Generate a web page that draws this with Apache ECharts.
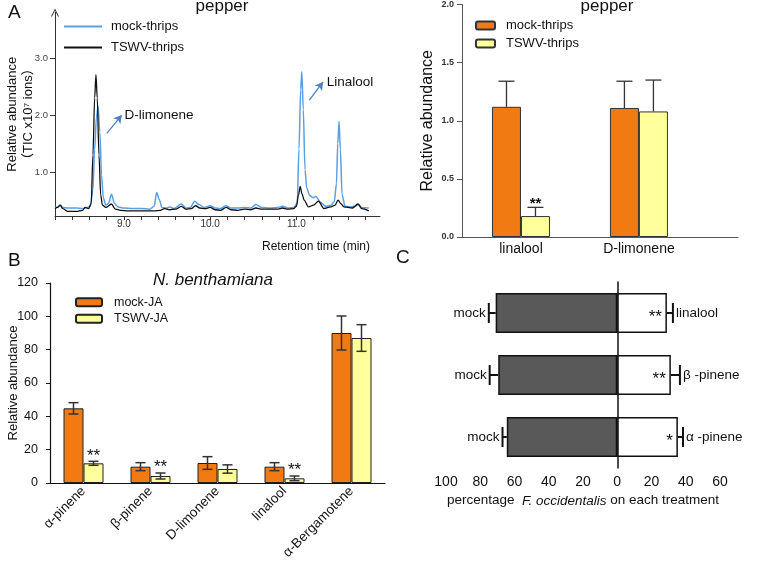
<!DOCTYPE html>
<html><head><meta charset="utf-8">
<script src="https://cdn.jsdelivr.net/npm/echarts@6/dist/echarts.min.js"></script>
<style>html,body{margin:0;padding:0;background:#fff}#c{width:758px;height:562px}</style>
</head><body><div id="c"></div>
<script>
// ---------- Panel A: chromatogram (retention time, relative abundance) ----------
const mockTrace = [[8.20,0.38],[8.23,0.39],[8.26,0.42],[8.29,0.38],[8.35,0.37],[8.45,0.37],[8.52,0.36],[8.57,0.38],[8.61,0.40],[8.64,0.70],[8.66,1.40],[8.68,1.95],[8.70,2.15],[8.72,1.70],[8.74,0.95],[8.76,0.55],[8.79,0.42],[8.82,0.45],[8.855,0.61],[8.89,0.45],[8.93,0.39],[9.00,0.37],[9.10,0.36],[9.20,0.36],[9.30,0.35],[9.35,0.40],[9.38,0.64],[9.41,0.52],[9.44,0.38],[9.50,0.37],[9.53,0.39],[9.58,0.36],[9.665,0.44],[9.72,0.37],[9.77,0.38],[9.82,0.49],[9.87,0.43],[9.93,0.38],[10.00,0.41],[10.06,0.37],[10.12,0.36],[10.18,0.41],[10.24,0.37],[10.32,0.37],[10.40,0.38],[10.47,0.37],[10.53,0.43],[10.60,0.38],[10.70,0.37],[10.78,0.38],[10.84,0.40],[10.90,0.37],[10.97,0.38],[11.01,0.46],[11.03,1.40],[11.05,2.45],[11.063,2.76],[11.08,2.10],[11.10,1.04],[11.12,0.72],[11.155,0.59],[11.19,0.55],[11.225,0.57],[11.28,0.47],[11.34,0.40],[11.40,0.42],[11.44,0.48],[11.465,0.80],[11.48,1.50],[11.495,1.89],[11.51,1.40],[11.53,0.60],[11.565,0.40],[11.63,0.39],[11.68,0.40],[11.715,0.43],[11.76,0.38],[11.84,0.37]];
const tswvTrace = [[8.20,0.36],[8.23,0.38],[8.26,0.42],[8.29,0.36],[8.35,0.31],[8.45,0.31],[8.52,0.33],[8.55,0.38],[8.59,0.36],[8.62,0.45],[8.64,1.30],[8.66,2.30],[8.675,2.71],[8.69,2.30],[8.71,1.30],[8.73,0.60],[8.75,0.42],[8.79,0.38],[8.855,0.44],[8.90,0.35],[8.96,0.33],[9.05,0.32],[9.20,0.32],[9.35,0.32],[9.42,0.33],[9.47,0.36],[9.53,0.34],[9.60,0.35],[9.665,0.40],[9.72,0.35],[9.78,0.36],[9.83,0.41],[9.88,0.37],[9.94,0.36],[10.00,0.38],[10.06,0.34],[10.12,0.33],[10.185,0.38],[10.24,0.34],[10.32,0.33],[10.40,0.35],[10.47,0.34],[10.53,0.37],[10.60,0.35],[10.70,0.35],[10.78,0.35],[10.84,0.37],[10.90,0.35],[10.97,0.36],[11.00,0.40],[11.025,0.60],[11.044,0.75],[11.065,0.62],[11.09,0.51],[11.14,0.39],[11.20,0.42],[11.255,0.49],[11.32,0.36],[11.40,0.39],[11.45,0.42],[11.483,0.51],[11.52,0.44],[11.55,0.39],[11.65,0.37],[11.715,0.44],[11.76,0.36],[11.84,0.32]];
const chromTickVals = [8.2,8.4,8.6,8.8,9.0,9.2,9.4,9.6,9.8,10.0,10.2,10.4,10.6,10.8,11.0,11.2,11.4,11.6,11.8];
const chromLabelVals = [9.0,10.0,11.0];
const chromYLabelVals = [1.0,2.0,3.0];

// ---------- Panel A: pepper bars ----------
const pepperCats = ['linalool','D-limonene'];
const pepperMock = [1.12, 1.11];
const pepperMockErr = [0.22, 0.23];
const pepperTswv = [0.18, 1.08];
const pepperTswvErr = [0.075, 0.27];
const pepperSig = ['**',''];

// ---------- Panel B: N. benthamiana ----------
const nbCats = ['α-pinene','β-pinene','D-limonene','linalool','α-Bergamotene'];
const nbMock = [44.8, 9.8, 12, 9.8, 90];
const nbMockErr = [3.4, 2.4, 3.8, 2.4, 10.2];
const nbTswv = [11.8, 4.2, 8.4, 2.8, 87];
const nbTswvErr = [1.2, 1.8, 2.5, 1.4, 8];
const nbSig = ['**','**','','**',''];

// ---------- Panel C: choice test ----------
const cCats = ['α -pinene','β -pinene','linalool'];
const cMock = [64.5, 69.5, 71];
const cMockErr = [2.5, 5, 4];
const cTreat = [35.4, 31.3, 29];
const cTreatErr = [3, 5.3, 3.5];
const cSig = ['*','**','**'];

const FF = '"Liberation Sans", Arial, "Noto Sans CJK SC", sans-serif';
const ORANGE = '#f27a12', YELLOW = '#ffff9c', BLUE = '#5b9fe0';

const chart = echarts.init(document.getElementById('c'));

function vErr(offset, capHalf, twoSided, sigArr, color, lw, starFont, starLift) {
  return function (params, api) {
    const x = api.value(0), v = api.value(1), e = api.value(2);
    const pt = api.coord([x, v + e]);
    const pb = api.coord([x, twoSided ? v - e : v]);
    const cx = pt[0] + offset;
    const st = {stroke: color, lineWidth: lw};
    const ch = [
      {type:'line', shape:{x1:cx, y1:pb[1], x2:cx, y2:pt[1]}, style:st},
      {type:'line', shape:{x1:cx-capHalf, y1:pt[1], x2:cx+capHalf, y2:pt[1]}, style:st}
    ];
    if (twoSided) ch.push({type:'line', shape:{x1:cx-capHalf, y1:pb[1], x2:cx+capHalf, y2:pb[1]}, style:st});
    const s = sigArr ? sigArr[params.dataIndex] : '';
    if (s) ch.push({type:'text', x:cx, y:pt[1] + starLift, style:{text:s, font:starFont, fill:'#111', textAlign:'center', textVerticalAlign:'bottom'}});
    return {type:'group', children:ch};
  };
}

function hErr(sign, labels, labelSide) {
  return function (params, api) {
    const v = api.value(0), yi = api.value(1), e = api.value(2);
    const p0 = api.coord([v, yi]);
    const p1 = api.coord([v + sign * e, yi]);
    const st = {stroke:'#111', lineWidth:2};
    return {type:'group', children:[
      {type:'line', shape:{x1:p0[0], y1:p0[1], x2:p1[0], y2:p1[1]}, style:st},
      {type:'line', shape:{x1:p1[0], y1:p1[1]-10, x2:p1[0], y2:p1[1]+10}, style:st},
      {type:'text', x:p1[0] + (labelSide === 'left' ? -3 : 3), y:p1[1],
       style:{text:labels[params.dataIndex], font:'13.5px ' + FF, fill:'#111',
              textAlign: labelSide === 'left' ? 'right' : 'left', textVerticalAlign:'middle'}}
    ]};
  };
}

const txt = (x, y, text, font, align) => ({type:'text', x, y, silent:true,
  style:{text, font, fill:'#111', textAlign: align || 'left', textVerticalAlign:'top'}});

const option = {
  animation: false,
  textStyle: {fontFamily: FF},
  graphic: [
    txt(8, 3, 'A', '19px ' + FF),
    txt(222, -2, 'pepper', '17px ' + FF, 'center'),
    txt(607, -2, 'pepper', '17px ' + FF, 'center'),
    txt(262, 241, 'Retention time (min)', '12px ' + FF),
    txt(8, 251, 'B', '19px ' + FF),
    txt(213, 272, 'N. benthamiana', 'italic 17px ' + FF, 'center'),
    txt(396, 248, 'C', '19px ' + FF)
  ],
  legend: [
    {data:['mock-thrips','TSWV-thrips'], orient:'vertical', left:64, top:20, padding:0,
     itemWidth:38, itemHeight:2, icon:'rect', itemGap:8, selectedMode:false,
     textStyle:{fontSize:13, color:'#111', fontFamily:FF, padding:[0,0,0,4]}},
    {data:['mock-thrips (bar)','TSWV-thrips (bar)'], formatter: n => n.replace(' (bar)',''),
     orient:'vertical', left:475, top:19, padding:0, itemWidth:19, itemHeight:8, itemGap:5, selectedMode:false,
     textStyle:{fontSize:13, color:'#111', fontFamily:FF, padding:[0,0,0,6]}},
    {data:['mock-JA','TSWV-JA'], orient:'vertical', left:75, top:296, padding:0,
     itemWidth:26, itemHeight:8, itemGap:4, selectedMode:false,
     textStyle:{fontSize:12.5, color:'#111', fontFamily:FF, padding:[0,0,0,7]}}
  ],
  grid: [
    {left:55, top:12.4, width:325, height:203.6},
    {left:462, top:3, width:276, height:234},
    {left:50, top:283, width:335, height:200},
    {left:446, top:282, width:274, height:186}
  ],
  xAxis: [
    {gridIndex:0, type:'value', min:8.2, max:11.97, splitLine:{show:false},
     axisLine:{lineStyle:{color:'#333', width:1}},
     axisTick:{customValues:chromTickVals, length:4, lineStyle:{color:'#333'}},
     axisLabel:{customValues:chromLabelVals, formatter:v => v.toFixed(1), margin:3, fontSize:10, color:'#333'}},
    {gridIndex:1, type:'value', min:0, max:2.34, splitLine:{show:false},
     axisLine:{lineStyle:{color:'#555', width:1}}, axisTick:{show:false},
     axisLabel:{customValues:pepperCats.map((c,i)=>i+0.5), formatter:v => pepperCats[Math.floor(v)],
                margin:5, fontSize:14, color:'#111'}},
    {gridIndex:2, type:'category', data:nbCats,
     axisLine:{lineStyle:{color:'#111', width:1.2}}, axisTick:{length:5, lineStyle:{color:'#111'}},
     axisLabel:{rotate:45, interval:0, fontSize:13.5, margin:6, color:'#111'}},
    {gridIndex:3, type:'value', min:-100, max:60, interval:20, splitLine:{show:false},
     axisLine:{lineStyle:{color:'#111', width:1.5}}, axisTick:{length:4, lineStyle:{color:'#111', width:1.5}},
     axisLabel:{formatter:v => Math.abs(v), fontSize:14, margin:7, color:'#111'},
     name:'{n|percentage  }{i|F. occidentalis}{n| on each treatment}', nameLocation:'middle', nameGap:26,
     nameMoveOverlap:false,
     nameTextStyle:{rich:{n:{fontSize:13.5, color:'#111', fontFamily:FF}, i:{fontSize:13.5, fontStyle:'italic', color:'#111', fontFamily:FF}}}}
  ],
  yAxis: [
    {gridIndex:0, type:'value', min:0.23, max:3.8, splitLine:{show:false},
     axisLine:{show:true, symbol:['none','path://M0,10L5,0L10,10L8.6,10L5,2.6L1.4,10Z'], symbolSize:[10,8], lineStyle:{color:'#333', width:1}},
     axisTick:{show:true, customValues:chromYLabelVals, length:5, lineStyle:{color:'#333'}},
     axisLabel:{customValues:chromYLabelVals, formatter:v => v.toFixed(1), margin:7, fontSize:9.5, color:'#444'},
     name:'Relative abundance\n（TIC x10⁷ ions）', nameLocation:'middle', nameRotate:90, nameGap:19,
     nameMoveOverlap:false,
     nameTextStyle:{fontSize:13, lineHeight:16, color:'#111'}},
    {gridIndex:1, type:'value', min:0, max:2, interval:0.5, splitLine:{show:false},
     axisLine:{show:true, lineStyle:{color:'#555', width:1}},
     axisTick:{show:true, length:5, lineStyle:{color:'#555'}},
     axisLabel:{formatter:v => v.toFixed(1), fontSize:9, fontWeight:'bold', margin:8, color:'#333'},
     name:'Relative abundance', nameLocation:'middle', nameGap:26, nameMoveOverlap:false,
     nameTextStyle:{fontSize:16, color:'#111'}},
    {gridIndex:2, type:'value', min:0, max:120, interval:20, splitLine:{show:false},
     axisLine:{show:true, lineStyle:{color:'#111', width:1.2}},
     axisTick:{show:true, length:4, lineStyle:{color:'#111'}},
     axisLabel:{fontSize:12.5, margin:12, color:'#111'},
     name:'Relative abundance', nameLocation:'middle', nameGap:30, nameMoveOverlap:false,
     nameTextStyle:{fontSize:13, color:'#111'}},
    {gridIndex:3, type:'category', data:cCats,
     axisLine:{onZero:true, lineStyle:{color:'#111', width:1.5}},
     axisTick:{alignWithLabel:true, length:3, lineStyle:{color:'#111', width:1.5}},
     axisLabel:{show:false}}
  ],
  series: [
    {name:'mock-thrips', type:'line', xAxisIndex:0, yAxisIndex:0, data:mockTrace, showSymbol:false,
     smooth:0.3, smoothMonotone:'x', lineStyle:{color:BLUE, width:1.5}, itemStyle:{color:BLUE},
     markLine:{silent:true, symbol:['none','arrow'], symbolSize:[7,8], label:{show:false},
       lineStyle:{color:'#4f81bd', width:1.3, type:'solid'},
       data:[[{coord:[8.80,1.68]},{coord:[8.975,2.0]}],[{coord:[11.15,2.26]},{coord:[11.31,2.58]}]]},
     markPoint:{silent:true, symbol:'circle', symbolSize:0.1, itemStyle:{color:'rgba(0,0,0,0)'},
       label:{show:true, position:'right', distance:1, formatter:'{b}', fontSize:13.5, color:'#111'},
       data:[{name:'D-limonene', coord:[8.995,2.0]},{name:'Linalool', coord:[11.34,2.58]}]}},
    {name:'TSWV-thrips', type:'line', xAxisIndex:0, yAxisIndex:0, data:tswvTrace, showSymbol:false,
     smooth:0.3, smoothMonotone:'x', lineStyle:{color:'#111', width:1.3}, itemStyle:{color:'#111'}},

    {name:'mock-thrips (bar)', type:'bar', xAxisIndex:1, yAxisIndex:1, barWidth:29, barGap:'0%',
     data:pepperMock.map((v,i)=>[i+0.5, v]), itemStyle:{color:ORANGE, borderColor:'#333', borderWidth:1}},
    {name:'TSWV-thrips (bar)', type:'bar', xAxisIndex:1, yAxisIndex:1, barWidth:29, barGap:'0%',
     data:pepperTswv.map((v,i)=>[i+0.5, v]), itemStyle:{color:YELLOW, borderColor:'#333', borderWidth:1}},
    {type:'custom', xAxisIndex:1, yAxisIndex:1, z:5, encode:{x:0, y:1},
     data:pepperMock.map((v,i)=>[i+0.5, v, pepperMockErr[i]]),
     renderItem: vErr(-14.5, 8, false, null, '#333', 1.3, '', 0)},
    {type:'custom', xAxisIndex:1, yAxisIndex:1, z:5, encode:{x:0, y:1},
     data:pepperTswv.map((v,i)=>[i+0.5, v, pepperTswvErr[i]]),
     renderItem: vErr(14.5, 8, false, pepperSig, '#333', 1.3, 'bold 15px ' + FF, 4)},

    {name:'mock-JA', type:'bar', xAxisIndex:2, yAxisIndex:2, barWidth:20, barGap:'0%', data:nbMock,
     itemStyle:{color:ORANGE, borderColor:'#222', borderWidth:1}},
    {name:'TSWV-JA', type:'bar', xAxisIndex:2, yAxisIndex:2, barWidth:20, barGap:'0%', data:nbTswv,
     itemStyle:{color:YELLOW, borderColor:'#222', borderWidth:1}},
    {type:'custom', xAxisIndex:2, yAxisIndex:2, z:5, encode:{x:0, y:1},
     data:nbMock.map((v,i)=>[i, v, nbMockErr[i]]),
     renderItem: vErr(-10, 5, true, null, '#333', 1.5, '', 0)},
    {type:'custom', xAxisIndex:2, yAxisIndex:2, z:5, encode:{x:0, y:1},
     data:nbTswv.map((v,i)=>[i, v, nbTswvErr[i]]),
     renderItem: vErr(10, 5, true, nbSig, '#333', 1.5, '17px ' + FF, 3)},

    {type:'bar', xAxisIndex:3, yAxisIndex:3, barWidth:40, barGap:'-100%', data:cMock.map(v => -v),
     itemStyle:{color:'#595959', borderColor:'#111', borderWidth:1.5}},
    {type:'bar', xAxisIndex:3, yAxisIndex:3, barWidth:40, barGap:'-100%', data:cTreat,
     itemStyle:{color:'#fff', borderColor:'#111', borderWidth:1.5},
     label:{show:true, position:'insideRight', distance:5, offset:[0,4], formatter:p => cSig[p.dataIndex],
            fontSize:17, color:'#111'}},
    {type:'custom', xAxisIndex:3, yAxisIndex:3, z:5, encode:{x:0, y:1},
     data:cMock.map((v,i)=>[-v, i, cMockErr[i]]), renderItem: hErr(-1, cCats.map(()=>'mock'), 'left')},
    {type:'custom', xAxisIndex:3, yAxisIndex:3, z:5, encode:{x:0, y:1},
     data:cTreat.map((v,i)=>[v, i, cTreatErr[i]]), renderItem: hErr(1, cCats, 'right')}
  ]
};
chart.setOption(option);
</script>
</body></html>
